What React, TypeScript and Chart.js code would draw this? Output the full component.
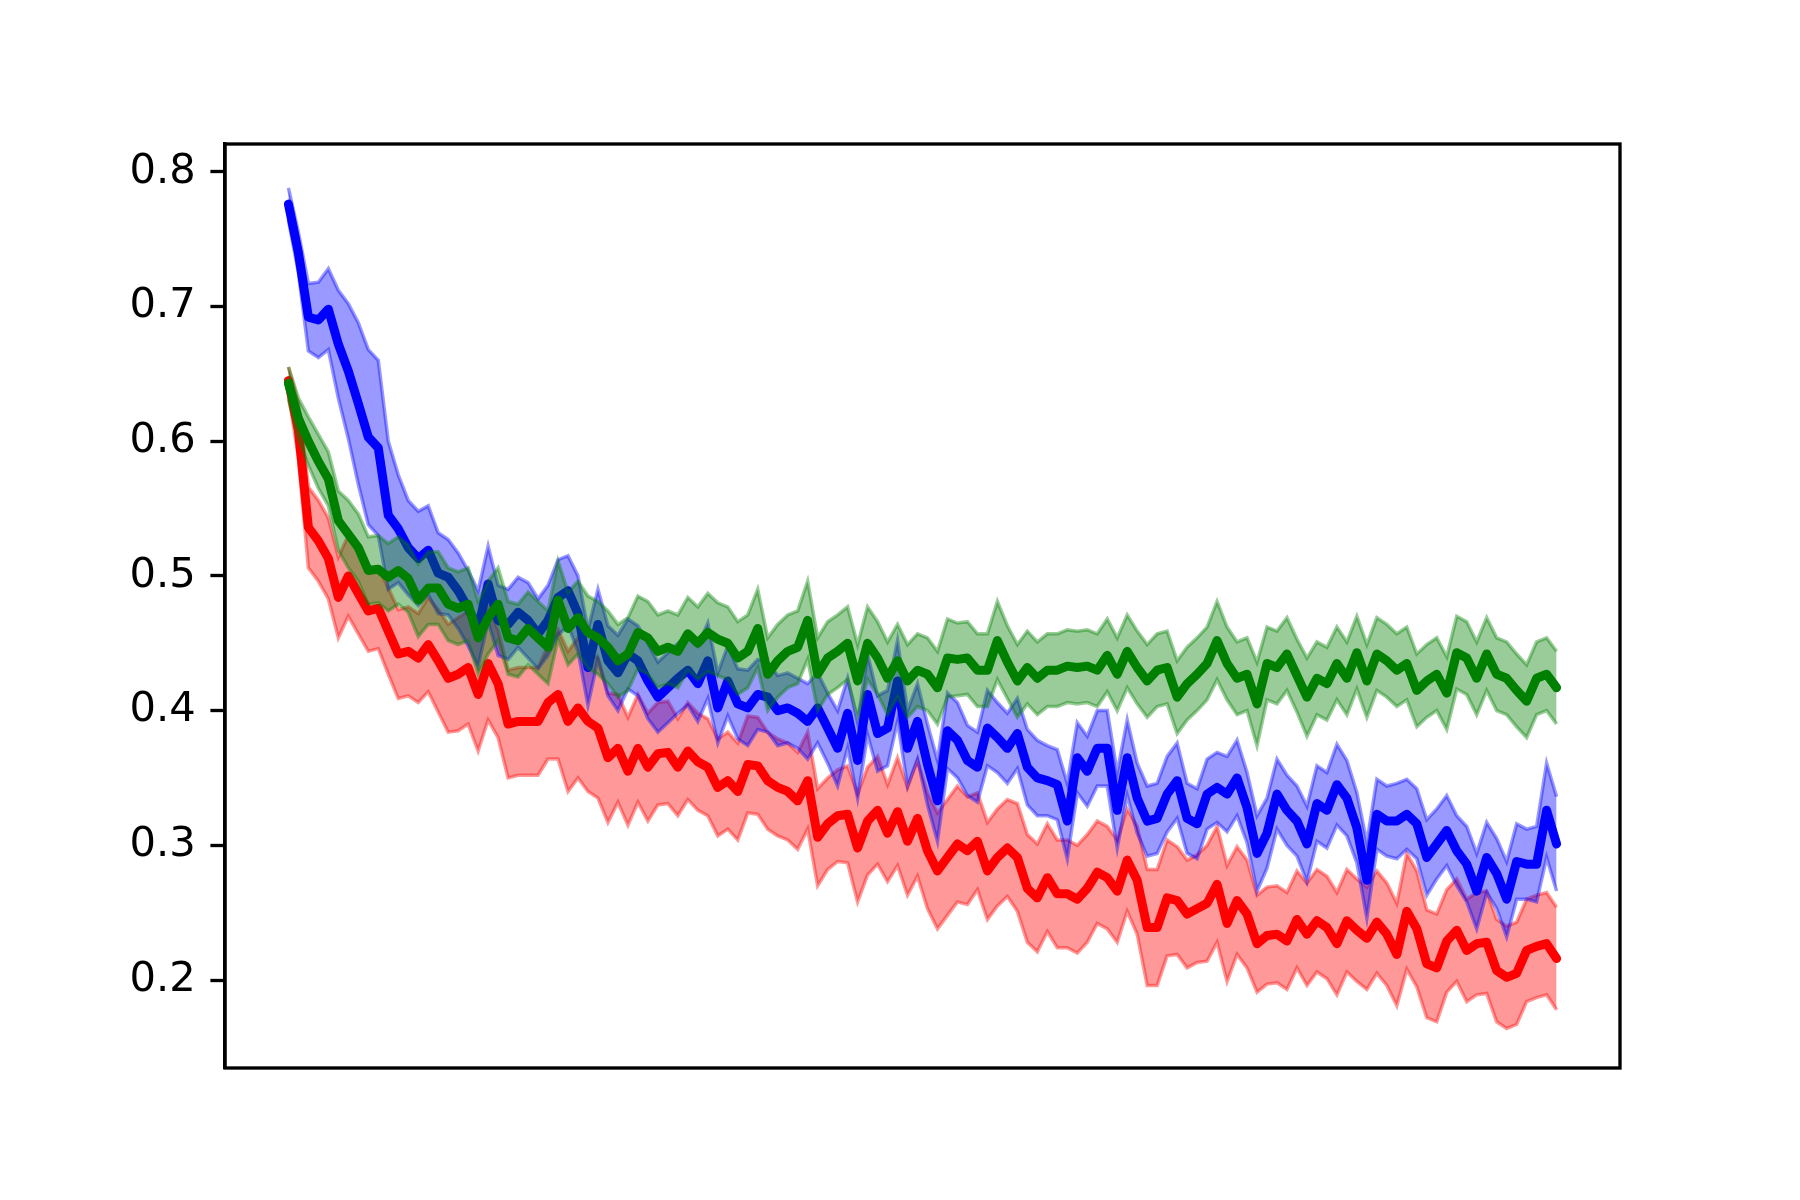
import React, { useEffect, useRef } from "react";
import { Chart, registerables } from "chart.js";

Chart.register(...registerables);

// x positions (training step index)
const steps: number[] = Array.from({ length: 128 }, (_, i) => i);

const yTickValues = [0.2, 0.3, 0.4, 0.5, 0.6, 0.7, 0.8];

const blueMean = [
  0.776, 0.740, 0.692, 0.690, 0.698, 0.672, 0.652, 0.628, 0.603, 0.595,
  0.545, 0.535, 0.521, 0.513, 0.519, 0.502, 0.499, 0.489, 0.476, 0.461,
  0.494, 0.467, 0.464, 0.473, 0.467, 0.457, 0.467, 0.484, 0.489, 0.472,
  0.432, 0.464, 0.437, 0.428, 0.442, 0.437, 0.422, 0.410, 0.417, 0.424,
  0.430, 0.420, 0.437, 0.402, 0.422, 0.405, 0.402, 0.412, 0.410, 0.400,
  0.402, 0.398, 0.392, 0.402, 0.387, 0.372, 0.398, 0.363, 0.412, 0.383,
  0.387, 0.422, 0.372, 0.392, 0.360, 0.333, 0.385, 0.378, 0.363, 0.358,
  0.387, 0.380, 0.372, 0.383, 0.358, 0.350, 0.348, 0.345, 0.318, 0.365,
  0.355, 0.372, 0.372, 0.326, 0.365, 0.335, 0.318, 0.320, 0.338, 0.348,
  0.320, 0.316, 0.338, 0.343, 0.338, 0.350, 0.328, 0.294, 0.309, 0.338,
  0.326, 0.318, 0.301, 0.331, 0.326, 0.345, 0.335, 0.313, 0.274, 0.323,
  0.318, 0.318, 0.323, 0.316, 0.291, 0.301, 0.311, 0.296, 0.286, 0.266,
  0.291, 0.279, 0.260, 0.288, 0.286, 0.286, 0.326, 0.301,
];

const blueSpread = [
  0.012, 0.015, 0.025, 0.028, 0.030, 0.040, 0.050, 0.060, 0.065, 0.065,
  0.055, 0.040, 0.035, 0.035, 0.033, 0.030, 0.028, 0.028, 0.028, 0.028,
  0.028, 0.026, 0.026, 0.026, 0.028, 0.026, 0.026, 0.028, 0.026, 0.028,
  0.028, 0.026, 0.026, 0.028, 0.026, 0.026, 0.028, 0.026, 0.026, 0.026,
  0.026, 0.028, 0.028, 0.026, 0.026, 0.026, 0.028, 0.026, 0.026, 0.026,
  0.026, 0.026, 0.028, 0.026, 0.026, 0.028, 0.026, 0.028, 0.030, 0.028,
  0.028, 0.030, 0.028, 0.028, 0.030, 0.030, 0.028, 0.028, 0.026, 0.026,
  0.028, 0.026, 0.026, 0.026, 0.028, 0.028, 0.026, 0.026, 0.028, 0.026,
  0.026, 0.028, 0.028, 0.028, 0.028, 0.026, 0.026, 0.026, 0.028, 0.028,
  0.026, 0.026, 0.026, 0.026, 0.028, 0.028, 0.026, 0.028, 0.026, 0.026,
  0.026, 0.026, 0.028, 0.028, 0.028, 0.030, 0.028, 0.026, 0.028, 0.026,
  0.026, 0.028, 0.026, 0.026, 0.028, 0.026, 0.026, 0.026, 0.028, 0.028,
  0.026, 0.026, 0.028, 0.028, 0.026, 0.028, 0.035, 0.035,
];

const redMean = [
  0.645, 0.608, 0.536, 0.526, 0.513, 0.484, 0.500, 0.487, 0.474, 0.476,
  0.459, 0.442, 0.444, 0.439, 0.449, 0.437, 0.424, 0.427, 0.432, 0.412,
  0.435, 0.420, 0.390, 0.392, 0.392, 0.392, 0.406, 0.412, 0.392, 0.402,
  0.392, 0.387, 0.365, 0.372, 0.355, 0.372, 0.358, 0.368, 0.369, 0.358,
  0.370, 0.362, 0.358, 0.343, 0.348, 0.340, 0.360, 0.359, 0.348, 0.343,
  0.340, 0.333, 0.348, 0.306, 0.316, 0.322, 0.323, 0.298, 0.318, 0.326,
  0.309, 0.325, 0.303, 0.320, 0.296, 0.281, 0.291, 0.301, 0.296, 0.303,
  0.281, 0.291, 0.298, 0.291, 0.268, 0.261, 0.276, 0.264, 0.264, 0.260,
  0.268, 0.280, 0.276, 0.266, 0.289, 0.274, 0.239, 0.239, 0.261, 0.259,
  0.249, 0.253, 0.257, 0.271, 0.242, 0.259, 0.249, 0.227, 0.233, 0.234,
  0.229, 0.245, 0.234, 0.244, 0.239, 0.227, 0.244, 0.237, 0.231, 0.243,
  0.234, 0.219, 0.251, 0.238, 0.212, 0.209, 0.229, 0.237, 0.222, 0.227,
  0.228, 0.207, 0.202, 0.205, 0.222, 0.225, 0.227, 0.216,
];

const redSpread = [
  0.010, 0.020, 0.030, 0.030, 0.030, 0.030, 0.030, 0.030, 0.030, 0.030,
  0.032, 0.033, 0.033, 0.033, 0.035, 0.038, 0.040, 0.042, 0.042, 0.042,
  0.042, 0.040, 0.040, 0.040, 0.040, 0.040, 0.042, 0.048, 0.052, 0.052,
  0.052, 0.052, 0.048, 0.040, 0.040, 0.040, 0.040, 0.038, 0.038, 0.036,
  0.036, 0.036, 0.036, 0.036, 0.036, 0.036, 0.036, 0.036, 0.036, 0.036,
  0.036, 0.036, 0.036, 0.036, 0.034, 0.034, 0.036, 0.040, 0.040, 0.040,
  0.036, 0.040, 0.040, 0.043, 0.043, 0.043, 0.043, 0.043, 0.040, 0.036,
  0.036, 0.036, 0.036, 0.040, 0.040, 0.040, 0.040, 0.040, 0.040, 0.040,
  0.040, 0.038, 0.038, 0.038, 0.038, 0.040, 0.043, 0.043, 0.043, 0.040,
  0.040, 0.040, 0.043, 0.043, 0.043, 0.040, 0.040, 0.036, 0.036, 0.036,
  0.036, 0.036, 0.038, 0.038, 0.038, 0.038, 0.038, 0.038, 0.038, 0.038,
  0.038, 0.038, 0.043, 0.043, 0.040, 0.040, 0.038, 0.038, 0.038, 0.038,
  0.038, 0.038, 0.038, 0.038, 0.038, 0.038, 0.038, 0.038,
];

const greenMean = [
  0.643, 0.617, 0.600, 0.585, 0.572, 0.541, 0.531, 0.521, 0.504, 0.505,
  0.499, 0.504, 0.498, 0.482, 0.491, 0.491, 0.479, 0.476, 0.479, 0.454,
  0.469, 0.479, 0.454, 0.452, 0.461, 0.454, 0.447, 0.482, 0.461, 0.469,
  0.458, 0.454, 0.447, 0.437, 0.442, 0.458, 0.454, 0.444, 0.447, 0.444,
  0.457, 0.450, 0.458, 0.453, 0.450, 0.439, 0.444, 0.461, 0.427, 0.437,
  0.444, 0.447, 0.467, 0.427, 0.439, 0.444, 0.450, 0.422, 0.450, 0.439,
  0.424, 0.437, 0.422, 0.430, 0.427, 0.417, 0.439, 0.438, 0.439, 0.430,
  0.430, 0.452, 0.436, 0.422, 0.432, 0.424, 0.430, 0.430, 0.433, 0.432,
  0.433, 0.430, 0.441, 0.427, 0.444, 0.432, 0.422, 0.430, 0.432, 0.410,
  0.420, 0.427, 0.435, 0.452, 0.435, 0.424, 0.427, 0.405, 0.435, 0.432,
  0.442, 0.426, 0.410, 0.424, 0.420, 0.435, 0.424, 0.443, 0.422, 0.442,
  0.437, 0.430, 0.435, 0.415, 0.422, 0.427, 0.413, 0.443, 0.439, 0.424,
  0.442, 0.427, 0.424, 0.415, 0.407, 0.424, 0.427, 0.417,
];

const greenSpread = [
  0.012, 0.015, 0.018, 0.020, 0.020, 0.022, 0.025, 0.025, 0.025, 0.025,
  0.025, 0.025, 0.025, 0.027, 0.027, 0.027, 0.027, 0.027, 0.027, 0.027,
  0.027, 0.027, 0.027, 0.027, 0.027, 0.027, 0.027, 0.029, 0.027, 0.027,
  0.027, 0.027, 0.027, 0.027, 0.027, 0.027, 0.027, 0.027, 0.027, 0.027,
  0.027, 0.027, 0.029, 0.027, 0.027, 0.027, 0.027, 0.029, 0.027, 0.027,
  0.027, 0.027, 0.029, 0.027, 0.027, 0.027, 0.027, 0.027, 0.027, 0.027,
  0.027, 0.027, 0.027, 0.027, 0.027, 0.027, 0.029, 0.027, 0.027, 0.027,
  0.027, 0.029, 0.027, 0.027, 0.027, 0.027, 0.027, 0.027, 0.027, 0.027,
  0.027, 0.027, 0.027, 0.027, 0.027, 0.027, 0.027, 0.027, 0.027, 0.027,
  0.027, 0.027, 0.027, 0.029, 0.027, 0.027, 0.027, 0.031, 0.027, 0.027,
  0.027, 0.027, 0.029, 0.027, 0.027, 0.027, 0.027, 0.027, 0.027, 0.027,
  0.027, 0.027, 0.027, 0.027, 0.027, 0.027, 0.027, 0.027, 0.027, 0.027,
  0.027, 0.027, 0.027, 0.027, 0.027, 0.027, 0.027, 0.027,
];

const seriesColors = ["#ff0000", "#0000ff", "#008000"];
const bandColors = ["rgba(255,0,0,0.4)", "rgba(0,0,255,0.4)", "rgba(0,128,0,0.4)"];

const framePlugin = {
  id: "frame",
  afterDraw(chart: any) {
    const { ctx, chartArea: a } = chart;
    ctx.save();
    ctx.strokeStyle = "#000000";
    ctx.lineWidth = 3.33;
    ctx.strokeRect(a.left, a.top, a.right - a.left, a.bottom - a.top);
    ctx.restore();
  },
};

export default function App() {
  const ref = useRef<HTMLCanvasElement>(null);

  useEffect(() => {
    document.body.style.margin = "0";
    const canvas = ref.current;
    if (!canvas) return;

    const toPts = (arr: number[]) => arr.map((v, i) => ({ x: steps[i], y: v }));
    const offset = (mean: number[], spread: number[], sign: number) =>
      mean.map((v, i) => ({ x: steps[i], y: v + sign * spread[i] }));

    const groups = [
      { mean: redMean, spread: redSpread },
      { mean: blueMean, spread: blueSpread },
      { mean: greenMean, spread: greenSpread },
    ];

    const datasets: any[] = [];
    groups.forEach((g, k) => {
      const base = 10 - k * 3;
      datasets.push({
        data: offset(g.mean, g.spread, -1),
        borderColor: bandColors[k],
        borderWidth: 3.5,
        pointRadius: 0,
        fill: false,
        order: base,
      });
      datasets.push({
        data: offset(g.mean, g.spread, 1),
        borderColor: bandColors[k],
        backgroundColor: bandColors[k],
        borderWidth: 3.5,
        pointRadius: 0,
        fill: "-1",
        order: base - 1,
      });
      datasets.push({
        data: toPts(g.mean),
        borderColor: seriesColors[k],
        borderWidth: 9,
        pointRadius: 0,
        fill: false,
        borderJoinStyle: "round",
        borderCapStyle: "round",
        order: base - 2,
      });
    });

    const chart = new Chart(canvas, {
      type: "line",
      data: { datasets },
      options: {
        animation: false,
        responsive: false,
        devicePixelRatio: 1,
        layout: { padding: { left: 0, top: 144, right: 180, bottom: 132 } },
        plugins: { legend: { display: false }, tooltip: { enabled: false } },
        elements: { line: { tension: 0 } },
        scales: {
          x: { type: "linear", min: -6.35, max: 133.35, display: false },
          y: {
            type: "linear",
            min: 0.1347,
            max: 0.8206,
            afterBuildTicks: (s: any) => {
              s.ticks = yTickValues.map((v) => ({ value: v }));
            },
            afterFit: (s: any) => {
              s.width = 225;
            },
            ticks: {
              callback: (v: any) => Number(v).toFixed(1),
              color: "#000000",
              padding: 14.6,
              font: { family: "'DejaVu Sans'", size: 41.67 },
            },
            grid: {
              display: true,
              drawOnChartArea: false,
              drawTicks: true,
              tickLength: 14.6,
              tickWidth: 3.33,
              tickColor: "#000000",
            },
            border: { display: true, color: "#000000", width: 3.33 },
          },
        },
      },
      plugins: [framePlugin],
    });

    return () => chart.destroy();
  }, []);

  return (
    <div style={{ position: "absolute", left: 0, top: 0, width: 1800, height: 1200, background: "#ffffff" }}>
      <canvas ref={ref} width={1800} height={1200} style={{ width: 1800, height: 1200 }} />
    </div>
  );
}
